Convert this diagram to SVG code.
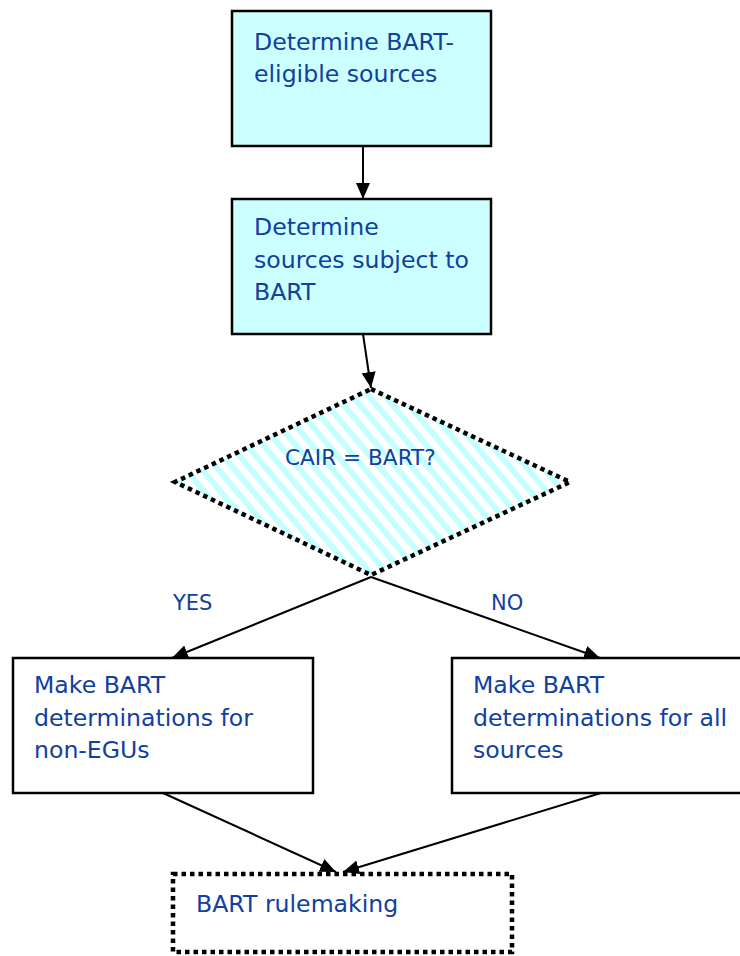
<svg xmlns="http://www.w3.org/2000/svg" width="740" height="956" viewBox="0 0 740 956">
<style>
.box{fill:#ccffff;stroke:#000;stroke-width:2.5}
.wbox{fill:#fff;stroke:#000;stroke-width:2.5}
.dot{stroke:#000;stroke-width:4.5;stroke-dasharray:4.5 4;stroke-linecap:butt}
.t{font-family:"DejaVu Sans",Verdana,sans-serif;font-size:23.6px;fill:#1040a0}
.s{font-family:"DejaVu Sans",Verdana,sans-serif;font-size:21px;fill:#1040a0}
.c{fill:none;stroke:#000;stroke-width:2}
</style>
<defs>
<marker id="ah" markerUnits="userSpaceOnUse" markerWidth="16" markerHeight="14" refX="16" refY="7" orient="auto">
<path d="M0,0 L16,7 L0,14 Z" fill="#000"/>
</marker>
<pattern id="stripes" patternUnits="userSpaceOnUse" width="12.5" height="12.5" patternTransform="rotate(-40)">
<rect width="12.5" height="12.5" fill="#fff"/>
<rect width="6" height="12.5" fill="#c4ffff"/>
</pattern>
</defs>
<g id="n1">
<rect class="box" x="232" y="11" width="259" height="135"/>
<text class="t" x="254" y="50">Determine BART-</text>
<text class="t" x="254" y="82">eligible sources</text>
</g>
<g id="n2">
<rect class="box" x="232" y="199" width="259" height="135"/>
<text class="t" x="254" y="235">Determine</text>
<text class="t" x="254" y="268">sources subject to</text>
<text class="t" x="254" y="300">BART</text>
</g>
<g id="n3">
<polygon points="371,389 570,482 371,575 175,482" fill="url(#stripes)" class="dot"/>
<text class="s" x="285" y="465" style="font-size:21.6px">CAIR = BART?</text>
</g>
<g id="n4">
<rect class="wbox" x="13" y="658" width="300" height="135"/>
<text class="t" x="34" y="693">Make BART</text>
<text class="t" x="34" y="726">determinations for</text>
<text class="t" x="34" y="758">non-EGUs</text>
</g>
<g id="n5">
<rect class="wbox" x="452" y="658" width="300" height="135"/>
<text class="t" x="473" y="693">Make BART</text>
<text class="t" x="473" y="726">determinations for all</text>
<text class="t" x="473" y="758">sources</text>
</g>
<g id="n6">
<rect x="173" y="874" width="339" height="78" fill="#fff" class="dot"/>
<text class="t" x="196" y="912">BART rulemaking</text>
</g>
<g id="connectors">
<path class="c" d="M363,146 L363,199" marker-end="url(#ah)"/>
<path class="c" d="M363,334 L371,388" marker-end="url(#ah)"/>
<path class="c" d="M371,577 L172,658" marker-end="url(#ah)"/>
<path class="c" d="M371,577 L600,658" marker-end="url(#ah)"/>
<path class="c" d="M163,793 L336,872" marker-end="url(#ah)"/>
<path class="c" d="M601,793 L343,872" marker-end="url(#ah)"/>
<text class="s" x="173" y="610">YES</text>
<text class="s" x="491" y="610">NO</text>
</g>
</svg>
